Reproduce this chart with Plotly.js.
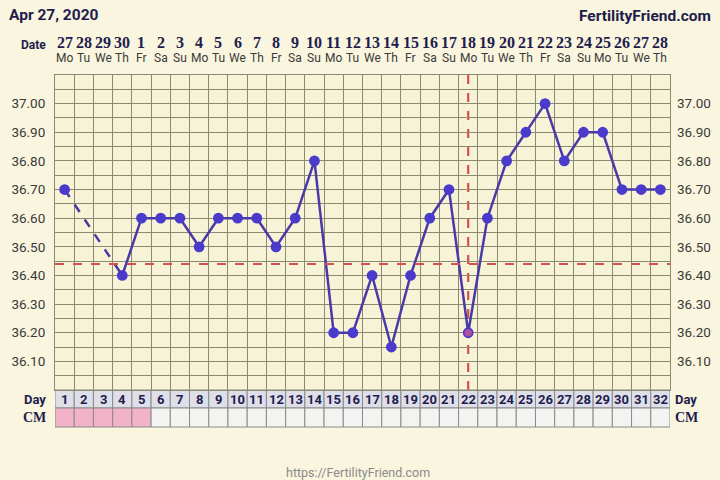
<!DOCTYPE html>
<html><head><meta charset="utf-8">
<script src="https://cdn.plot.ly/plotly-3.0.1.min.js"></script>
<style>html,body{margin:0;padding:0;background:#f9f5de;}#chart{width:720px;height:480px;}</style>
</head><body><div id="chart"></div>
<script>
// ---- data ----
const cycleDays = [1,2,3,4,5,6,7,8,9,10,11,12,13,14,15,16,17,18,19,20,21,22,23,24,25,26,27,28,29,30,31,32];
const dateLabels = ["27","28","29","30","1","2","3","4","5","6","7","8","9","10","11","12","13","14","15","16","17","18","19","20","21","22","23","24","25","26","27","28"];
const weekdayLabels = ["Mo","Tu","We","Th","Fr","Sa","Su","Mo","Tu","We","Th","Fr","Sa","Su","Mo","Tu","We","Th","Fr","Sa","Su","Mo","Tu","We","Th","Fr","Sa","Su","Mo","Tu","We","Th"];
const temperatures = [36.70,null,null,36.40,36.60,36.60,36.60,36.50,36.60,36.60,36.60,36.50,36.60,36.80,36.20,36.20,36.40,36.15,36.40,36.60,36.70,36.20,36.60,36.80,36.90,37.00,36.80,36.90,36.90,36.70,36.70,36.70];
const cmFlags = ["period","period","period","period","period","","","","","","","","","","","","","","","","","","","","","","","","","","",""];
const coverline = 36.44;
const ovulationDay = 22;
const yTickVals = [36.10,36.20,36.30,36.40,36.50,36.60,36.70,36.80,36.90,37.00];
const headerDate = "Apr 27, 2020";
const brand = "FertilityFriend.com";
const footer = "https://FertilityFriend.com";

// ---- build ----
const navy = "#1f1d4d";
const gridCol = "#8b8a70";
const plotDomainBottom = 37/352;
const dayRowTop = plotDomainBottom, dayRowBottom = 19/352;
const py = px => (427 - px) / 352; // pixel row -> paper y

// dashed connectors across missing days
const gapX = [], gapY = [];
let last = null;
cycleDays.forEach((d,i)=>{
  const t = temperatures[i];
  if (t === null) return;
  if (last !== null && d - cycleDays[last] > 1) {
    gapX.push(cycleDays[last], d, null);
    gapY.push(temperatures[last], t, null);
  }
  last = i;
});

const markerColors = cycleDays.map(d => d === ovulationDay ? "#b0509e" : "#4b3bcc");

const traces = [
  {x: gapX, y: gapY, mode:"lines", line:{color:"#4a3aa0", width:2.5, dash:"dash"}, hoverinfo:"skip", showlegend:false},
  {x: cycleDays, y: temperatures, mode:"lines+markers", connectgaps:false,
   line:{color:"#4a3aa8", width:2.5},
   marker:{size:9, color:markerColors, line:{color:"#4b3bcc", width:1.8}},
   showlegend:false},
  {x: cycleDays, y: temperatures, yaxis:"y3", mode:"markers", marker:{opacity:0}, hoverinfo:"skip", showlegend:false}
];

const shapes = [];
const annotations = [];
shapes.push({type:"line", xref:"x", yref:"y", x0:0.5, x1:32.5, y0:coverline, y1:coverline,
  line:{color:"#d8504a", width:2.2, dash:"dash"}, layer:"above"});
shapes.push({type:"line", xref:"x", yref:"paper", x0:ovulationDay, x1:ovulationDay, y0:plotDomainBottom, y1:1,
  line:{color:"#d8504a", width:2.2, dash:"dash"}, layer:"below"});

cycleDays.forEach((d,i)=>{
  shapes.push({type:"rect", xref:"x", yref:"paper", x0:d-0.5, x1:d+0.5, y0:dayRowBottom, y1:dayRowTop,
    fillcolor:"#dfdfe9", line:{color:"#8a8a8a", width:1}, layer:"below"});
  shapes.push({type:"rect", xref:"x", yref:"paper", x0:d-0.5, x1:d+0.5, y0:0, y1:dayRowBottom,
    fillcolor: cmFlags[i] === "period" ? "#f2b3c8" : "#f3f3f1", line:{color:"#8a8a8a", width:1}, layer:"below"});
  annotations.push({x:d, y:(dayRowTop+dayRowBottom)/2, xref:"x", yref:"paper", yanchor:"middle", text:"<b>"+d+"</b>", showarrow:false,
    font:{family:"Roboto", size:13, color:navy}});
  annotations.push({x:d, y:py(42), xref:"x", yref:"paper", yanchor:"middle", text:"<b>"+dateLabels[i]+"</b>", showarrow:false,
    font:{family:"Liberation Serif", size:16, color:navy}});
  annotations.push({x:d, y:py(58), xref:"x", yref:"paper", yanchor:"middle", text:weekdayLabels[i], showarrow:false,
    font:{family:"Roboto", size:12, color:"#3a3a3a"}});
});

const lab = (x, y, text, opts={}) => annotations.push(Object.assign({x, y, xref:"paper", yref:"paper", yanchor:"middle", text, showarrow:false}, opts));
lab(-0.012, py(45), "<b>Date</b>", {font:{family:"Roboto", size:12, color:navy}, xanchor:"right"});
lab(-0.012, (dayRowTop+dayRowBottom)/2, "<b>Day</b>", {font:{family:"Roboto", size:13, color:navy}, xanchor:"right"});
lab(-0.012, dayRowBottom/2, "<b>CM</b>", {font:{family:"Liberation Serif", size:14, color:navy}, xanchor:"right"});
lab(1.005, (dayRowTop+dayRowBottom)/2, "<b>Day</b>", {font:{family:"Roboto", size:13, color:navy}, xanchor:"left"});
lab(1.005, dayRowBottom/2, "<b>CM</b>", {font:{family:"Liberation Serif", size:14, color:navy}, xanchor:"left"});
lab(-0.078, py(15), "<b>"+headerDate+"</b>", {font:{family:"Roboto", size:15.5, color:navy}, xanchor:"left"});
lab(1.07, py(16), "<b>"+brand+"</b>", {font:{family:"Roboto", size:15.5, color:navy}, xanchor:"right"});
lab(0.5, py(472), footer, {font:{family:"Roboto", size:12.5, color:"#8a8a8a"}, xanchor:"center", xshift:-5});

const boundaries = [];
for (let b = 0.5; b <= 32.5; b += 1) boundaries.push(b);

const yAxisBase = {
  range:[36.0, 37.1], domain:[plotDomainBottom, 1], tickvals:yTickVals,
  ticktext: yTickVals.map(v => v.toFixed(2)),
  tickfont:{family:"Roboto", size:13.5, color:"#3a3a3a"}, fixedrange:true
};

const layout = {
  width:720, height:480,
  margin:{l:55, r:50, t:75, b:53},
  paper_bgcolor:"#f9f5de", plot_bgcolor:"#f7f3d6",
  showlegend:false,
  xaxis:{range:[0.5,32.5], tickvals:boundaries, showticklabels:false, ticks:"",
    showgrid:true, gridcolor:gridCol, gridwidth:1, zeroline:false,
    showline:true, linecolor:gridCol, mirror:true, fixedrange:true},
  yaxis:Object.assign({}, yAxisBase, {side:"left", showgrid:true, gridcolor:gridCol, gridwidth:1,
    minor:{tick0:36.0, dtick:0.05, showgrid:true, gridcolor:gridCol, gridwidth:1},
    zeroline:false, showline:true, linecolor:gridCol, mirror:true, ticks:"", ticklabelstandoff:6}),
  yaxis3:Object.assign({}, yAxisBase, {overlaying:"y", side:"right", showgrid:false, zeroline:false, showline:false, ticks:"", ticklabelstandoff:6}),
  shapes, annotations
};

Plotly.newPlot("chart", traces, layout, {displayModeBar:false, staticPlot:true});
</script>
</body></html>
